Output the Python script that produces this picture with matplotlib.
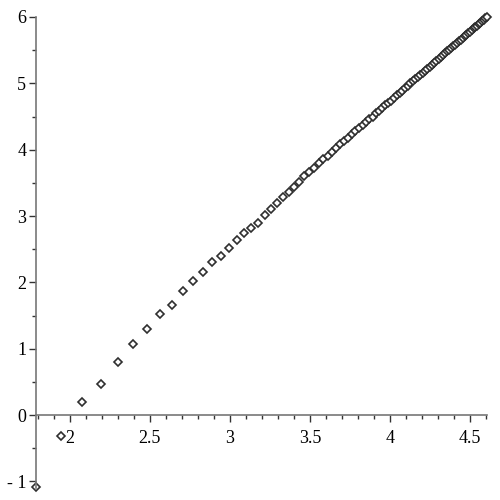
import matplotlib
matplotlib.use('Agg')
import matplotlib.pyplot as plt
from matplotlib.ticker import MultipleLocator

# x = ln(n) for n = 6..100, y
x_vals = [1.792, 1.946, 2.079, 2.197, 2.303, 2.398, 2.485, 2.565, 2.639, 2.708,
          2.773, 2.833, 2.890, 2.944, 2.996, 3.045, 3.091, 3.135, 3.178, 3.219,
          3.258, 3.296, 3.332, 3.367, 3.401, 3.434, 3.466, 3.497, 3.526, 3.555,
          3.584, 3.611, 3.638, 3.664, 3.689, 3.714, 3.738, 3.761, 3.784, 3.807,
          3.829, 3.850, 3.871, 3.892, 3.912, 3.932, 3.951, 3.970, 3.989, 4.007,
          4.025, 4.043, 4.060, 4.078, 4.094, 4.111, 4.127, 4.143, 4.159, 4.174,
          4.190, 4.205, 4.220, 4.234, 4.248, 4.263, 4.277, 4.290, 4.304, 4.317,
          4.331, 4.344, 4.357, 4.369, 4.382, 4.394, 4.407, 4.419, 4.431, 4.443,
          4.454, 4.466, 4.477, 4.489, 4.500, 4.511, 4.522, 4.533, 4.543, 4.554,
          4.564, 4.575, 4.585, 4.595, 4.605]
y_vals = [-1.08, -0.31, 0.20, 0.47, 0.80, 1.07, 1.29, 1.52, 1.66, 1.87,
          2.02, 2.15, 2.30, 2.40, 2.52, 2.64, 2.74, 2.82, 2.90, 3.01,
          3.10, 3.19, 3.28, 3.36, 3.44, 3.52, 3.60, 3.67, 3.73, 3.80,
          3.86, 3.91, 3.97, 4.02, 4.08, 4.13, 4.18, 4.23, 4.28, 4.32,
          4.37, 4.42, 4.46, 4.50, 4.55, 4.59, 4.63, 4.67, 4.71, 4.74,
          4.78, 4.82, 4.86, 4.89, 4.93, 4.96, 5.00, 5.03, 5.06, 5.10,
          5.13, 5.16, 5.19, 5.22, 5.25, 5.28, 5.31, 5.34, 5.37, 5.40,
          5.43, 5.45, 5.48, 5.50, 5.53, 5.56, 5.58, 5.61, 5.64, 5.66,
          5.68, 5.71, 5.73, 5.76, 5.78, 5.80, 5.83, 5.85, 5.87, 5.89,
          5.91, 5.94, 5.96, 5.98, 6.00]

xtick_vals = [2, 2.5, 3, 3.5, 4, 4.5]
xtick_text = ['2', '2.5', '3', '3.5', '4', '4.5']
ytick_vals = [-1, 0, 1, 2, 3, 4, 5, 6]
ytick_text = ['- 1', '0', '1', '2', '3', '4', '5', '6']

plt.rcParams['font.family'] = 'serif'
plt.rcParams['font.serif'] = ['Liberation Serif', 'DejaVu Serif']

fig = plt.figure(figsize=(5, 5), dpi=100)
ax = fig.add_axes([0.072, 0.024, 0.902, 0.942])

ax.plot(x_vals, y_vals, linestyle='none', marker='D', markersize=4.4,
        markerfacecolor='white', markeredgecolor='#2e2e2e', markeredgewidth=1.2,
        clip_on=False)

ax.set_xlim(1.79, 4.606)
ax.set_ylim(-1.1, 6.0)

axis_col = '#777777'
ax.spines['top'].set_visible(False)
ax.spines['right'].set_visible(False)
ax.spines['bottom'].set_position(('data', 0))
for side in ['bottom', 'left']:
    ax.spines[side].set_color(axis_col)
    ax.spines[side].set_linewidth(1.2)

ax.xaxis.set_minor_locator(MultipleLocator(0.1))
ax.yaxis.set_minor_locator(MultipleLocator(0.5))

ax.tick_params(which='major', direction='out', length=5, width=1, color='#333333',
               labelsize=13, labelcolor='black')
ax.tick_params(which='minor', direction='out', length=3, width=1, color='#333333')
ax.tick_params(axis='x', which='major', pad=6)
ax.tick_params(axis='y', which='major', pad=2)

ax.set_xticks(xtick_vals)
ax.set_xticklabels(xtick_text)
ax.set_yticks(ytick_vals)
ax.set_yticklabels(ytick_text)

fig.savefig('out.png', dpi=100)
